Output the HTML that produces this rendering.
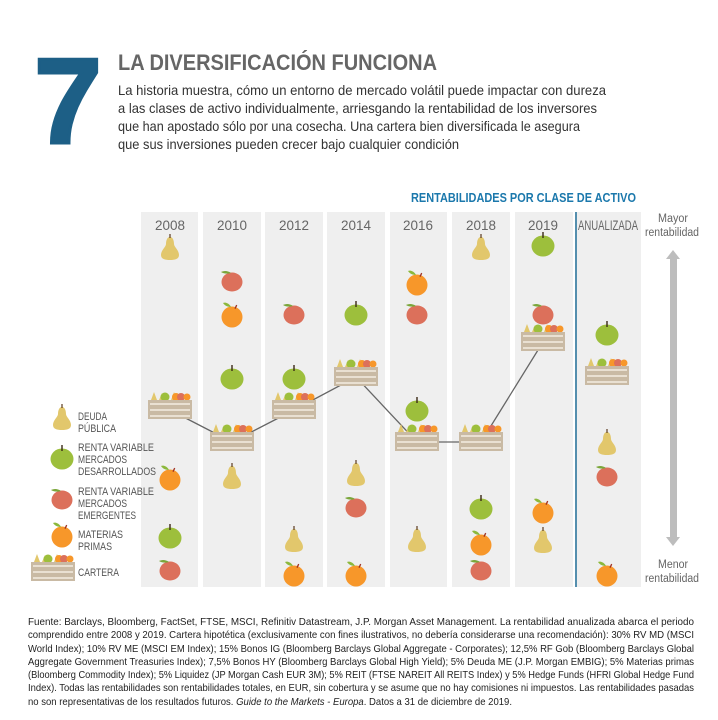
<!DOCTYPE html>
<html><head><meta charset="utf-8"><style>
html,body{margin:0;padding:0;background:#fff;}
svg{display:block;font-family:"Liberation Sans",sans-serif;}
</style></head><body>
<svg width="718" height="720" viewBox="0 0 718 720" xmlns="http://www.w3.org/2000/svg">
<defs>
<g id="pear"><path d="M0,-11 C-3,-11 -4,-7 -4,-4 C-4,-1 -9,2 -9,7 C-9,11 -5,12 0,12 C5,12 9,11 9,7 C9,2 4,-1 4,-4 C4,-7 3,-11 0,-11Z" fill="#e2c76c"/><rect x="-0.6" y="-14" width="1.2" height="4" fill="#5a3b1e"/></g>
<g id="green"><ellipse cx="0" cy="1" rx="11.5" ry="10.5" fill="#9dbf3c"/><rect x="-0.7" y="-13" width="1.4" height="6" fill="#3a2a16"/></g>
<g id="red"><ellipse cx="0" cy="1" rx="10.5" ry="9.5" fill="#dc705b"/><path d="M-1,-8 C-5,-11 -9,-10 -11,-9 C-8,-7 -4,-7 -1,-8Z" fill="#7aa63a"/></g>
<g id="orange"><circle cx="0" cy="2" r="10.5" fill="#f7972a"/><path d="M-1,-8 C-3,-12 -7,-13 -9,-12 C-7,-9 -4,-8 -1,-8Z" fill="#8cb83c"/><rect x="-0.6" y="-11" width="1.3" height="4" fill="#a03020" transform="rotate(25)"/></g>
<g id="crate">
<path d="M-19,-10 l3,-8 l3,8Z M-11,-10 l3,-7 l3,7Z M1,-10 l3,-8 l3,8Z" fill="#e2c76c"/>
<circle cx="-5" cy="-13" r="4.5" fill="#9dbf3c"/><circle cx="6" cy="-13" r="4" fill="#f7972a"/><circle cx="11" cy="-13" r="4" fill="#dc705b"/><circle cx="17" cy="-13" r="3.5" fill="#f7972a"/>
<rect x="-22" y="-10" width="44" height="19" fill="#c9baa4"/>
<rect x="-20" y="-7" width="40" height="2" fill="#e9e0d2"/><rect x="-20" y="-1" width="40" height="2" fill="#e9e0d2"/><rect x="-20" y="5" width="40" height="2" fill="#e9e0d2"/>
</g>
</defs>

<text x="34" y="143" font-size="122" font-weight="bold" fill="#1d5f86" textLength="68" lengthAdjust="spacingAndGlyphs" stroke="#1d5f86" stroke-width="3">7</text>
<text x="118" y="70" font-size="22" font-weight="bold" fill="#666" textLength="319" lengthAdjust="spacingAndGlyphs">LA DIVERSIFICACIÓN FUNCIONA</text>
<g font-size="14" fill="#333">
<text x="118" y="95" textLength="488" lengthAdjust="spacingAndGlyphs">La historia muestra, cómo un entorno de mercado volátil puede impactar con dureza</text>
<text x="118" y="113" textLength="479" lengthAdjust="spacingAndGlyphs">a las clases de activo individualmente, arriesgando la rentabilidad de los inversores</text>
<text x="118" y="131" textLength="462" lengthAdjust="spacingAndGlyphs">que han apostado sólo por una cosecha. Una cartera bien diversificada le asegura</text>
<text x="118" y="149" textLength="341" lengthAdjust="spacingAndGlyphs">que sus inversiones pueden crecer bajo cualquier condición</text>
</g>

<text x="411" y="202" font-size="13" font-weight="bold" fill="#1b78ac" textLength="225" lengthAdjust="spacingAndGlyphs">RENTABILIDADES POR CLASE DE ACTIVO</text>

<g fill="#efefef">
<rect x="141" y="212" width="57" height="375"/>
<rect x="203" y="212" width="58" height="375"/>
<rect x="265" y="212" width="58" height="375"/>
<rect x="327" y="212" width="58" height="375"/>
<rect x="390" y="212" width="57" height="375"/>
<rect x="452" y="212" width="58" height="375"/>
<rect x="515" y="212" width="58" height="375"/>
<rect x="577" y="212" width="64" height="375"/>
</g>
<line x1="576" y1="212" x2="576" y2="587" stroke="#1d6a93" stroke-width="1.5"/>

<g font-size="14" fill="#666" text-anchor="middle">
<text x="170" y="230" textLength="30" lengthAdjust="spacingAndGlyphs">2008</text><text x="232" y="230" textLength="30" lengthAdjust="spacingAndGlyphs">2010</text><text x="294" y="230" textLength="30" lengthAdjust="spacingAndGlyphs">2012</text><text x="356" y="230" textLength="30" lengthAdjust="spacingAndGlyphs">2014</text><text x="418" y="230" textLength="30" lengthAdjust="spacingAndGlyphs">2016</text><text x="481" y="230" textLength="30" lengthAdjust="spacingAndGlyphs">2018</text><text x="543" y="230" textLength="30" lengthAdjust="spacingAndGlyphs">2019</text>
<text x="608" y="230" textLength="60" lengthAdjust="spacingAndGlyphs">ANUALIZADA</text>
</g>
<g font-size="11.5" fill="#666" text-anchor="middle">
<text x="673" y="222" textLength="30" lengthAdjust="spacingAndGlyphs">Mayor</text><text x="672" y="236" textLength="54" lengthAdjust="spacingAndGlyphs">rentabilidad</text>
<text x="673" y="568" textLength="30" lengthAdjust="spacingAndGlyphs">Menor</text><text x="672" y="582" textLength="54" lengthAdjust="spacingAndGlyphs">rentabilidad</text>
</g>
<rect x="670" y="258" width="7" height="280" fill="#bdbdbd"/>
<path d="M666,259 L673,250 L680,259Z M666,537 L673,546 L680,537Z" fill="#bdbdbd"/>

<polyline points="170,410 232,442 294,410 356,377 417,442 481,442 543,342" fill="none" stroke="#666" stroke-width="1.3"/>

<use href="#pear" x="170" y="248"/><use href="#crate" x="170" y="410"/><use href="#orange" x="170" y="478"/><use href="#green" x="170" y="537"/><use href="#red" x="170" y="570"/>
<use href="#red" x="232" y="281"/><use href="#orange" x="232" y="315"/><use href="#green" x="232" y="378"/><use href="#crate" x="232" y="442"/><use href="#pear" x="232" y="477"/>
<use href="#red" x="294" y="314"/><use href="#green" x="294" y="378"/><use href="#crate" x="294" y="410"/><use href="#pear" x="294" y="540"/><use href="#orange" x="294" y="574"/>
<use href="#green" x="356" y="314"/><use href="#crate" x="356" y="377"/><use href="#pear" x="356" y="474"/><use href="#red" x="356" y="507"/><use href="#orange" x="356" y="574"/>
<use href="#orange" x="417" y="283"/><use href="#red" x="417" y="314"/><use href="#green" x="417" y="410"/><use href="#crate" x="417" y="442"/><use href="#pear" x="417" y="540"/>
<use href="#pear" x="481" y="248"/><use href="#crate" x="481" y="442"/><use href="#green" x="481" y="508"/><use href="#orange" x="481" y="543"/><use href="#red" x="481" y="570"/>
<use href="#green" x="543" y="245"/><use href="#red" x="543" y="314"/><use href="#crate" x="543" y="342"/><use href="#orange" x="543" y="511"/><use href="#pear" x="543" y="541"/>
<use href="#green" x="607" y="334"/><use href="#crate" x="607" y="376"/><use href="#pear" x="607" y="443"/><use href="#red" x="607" y="476"/><use href="#orange" x="607" y="574"/>

<use href="#pear" x="62" y="418"/><use href="#green" x="62" y="458"/><use href="#red" x="62" y="499"/><use href="#orange" x="62" y="535"/><use href="#crate" x="53" y="572"/>
<g font-size="11" fill="#555">
<text x="78" y="420" textLength="29" lengthAdjust="spacingAndGlyphs">DEUDA</text><text x="78" y="432" textLength="38" lengthAdjust="spacingAndGlyphs">PÚBLICA</text>
<text x="78" y="451" textLength="76" lengthAdjust="spacingAndGlyphs">RENTA VARIABLE</text><text x="78" y="463" textLength="49" lengthAdjust="spacingAndGlyphs">MERCADOS</text><text x="78" y="475" textLength="78" lengthAdjust="spacingAndGlyphs">DESARROLLADOS</text>
<text x="78" y="495" textLength="76" lengthAdjust="spacingAndGlyphs">RENTA VARIABLE</text><text x="78" y="507" textLength="49" lengthAdjust="spacingAndGlyphs">MERCADOS</text><text x="78" y="519" textLength="58" lengthAdjust="spacingAndGlyphs">EMERGENTES</text>
<text x="78" y="538" textLength="45" lengthAdjust="spacingAndGlyphs">MATERIAS</text><text x="78" y="550" textLength="34" lengthAdjust="spacingAndGlyphs">PRIMAS</text>
<text x="78" y="576" textLength="41" lengthAdjust="spacingAndGlyphs">CARTERA</text>
</g>

<g font-size="10.5" fill="#222">
<text x="28" y="625" textLength="666" lengthAdjust="spacingAndGlyphs">Fuente: Barclays, Bloomberg, FactSet, FTSE, MSCI, Refinitiv Datastream, J.P. Morgan Asset Management. La rentabilidad anualizada abarca el periodo</text>
<text x="28" y="638" textLength="666" lengthAdjust="spacingAndGlyphs">comprendido entre 2008 y 2019. Cartera hipotética (exclusivamente con fines ilustrativos, no debería considerarse una recomendación): 30% RV MD (MSCI</text>
<text x="28" y="652" textLength="666" lengthAdjust="spacingAndGlyphs">World Index); 10% RV ME (MSCI EM Index); 15% Bonos IG (Bloomberg Barclays Global Aggregate - Corporates); 12,5% RF Gob (Bloomberg Barclays Global</text>
<text x="28" y="665" textLength="666" lengthAdjust="spacingAndGlyphs">Aggregate Government Treasuries Index); 7,5% Bonos HY (Bloomberg Barclays Global High Yield); 5% Deuda ME (J.P. Morgan EMBIG); 5% Materias primas</text>
<text x="28" y="678" textLength="666" lengthAdjust="spacingAndGlyphs">(Bloomberg Commodity Index); 5% Liquidez (JP Morgan Cash EUR 3M); 5% REIT (FTSE NAREIT All REITS Index) y 5% Hedge Funds (HFRI Global Hedge Fund</text>
<text x="28" y="691" textLength="666" lengthAdjust="spacingAndGlyphs">Index). Todas las rentabilidades son rentabilidades totales, en EUR, sin cobertura y se asume que no hay comisiones ni impuestos. Las rentabilidades pasadas</text>
<text x="28" y="705" textLength="484" lengthAdjust="spacingAndGlyphs">no son representativas de los resultados futuros. <tspan font-style="italic">Guide to the Markets - Europa</tspan>. Datos a 31 de diciembre de 2019.</text>
</g>
</svg>
</body></html>
